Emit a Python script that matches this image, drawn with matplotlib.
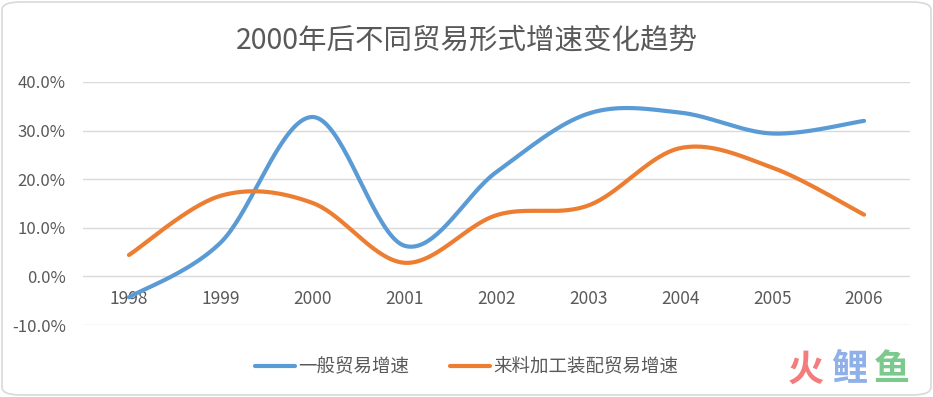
import numpy as np
import matplotlib.pyplot as plt
from matplotlib.patches import FancyBboxPatch

plt.rcParams['font.family'] = ['Noto Sans CJK SC', 'DejaVu Sans']

years = ['1998', '1999', '2000', '2001', '2002', '2003', '2004', '2005', '2006']
general = [-4.3, 7.0, 32.8, 6.3, 21.5, 33.5, 33.7, 29.4, 32.0]
processing = [4.4, 16.6, 15.1, 2.8, 12.6, 14.6, 26.4, 22.4, 12.7]
series_names = ['一般贸易增速', '来料加工装配贸易增速']
colors = ['#5B9BD5', '#ED7D31']


def smooth(y, n=40):
    # Excel-like smoothed line: Catmull-Rom segments as cubic Bezier
    y = np.asarray(y, dtype=float) / 100.0
    x = np.arange(len(y), dtype=float)
    pts = np.column_stack([x, y])
    ext = np.vstack([pts[0], pts, pts[-1]])
    out = []
    t = np.linspace(0, 1, n)[:, None]
    for i in range(len(pts) - 1):
        p0, p1, p2, p3 = ext[i], ext[i + 1], ext[i + 2], ext[i + 3]
        c1 = p1 + (p2 - p0) / 6.0
        c2 = p2 - (p3 - p1) / 6.0
        seg = ((1 - t) ** 3) * p1 + 3 * ((1 - t) ** 2) * t * c1 + 3 * (1 - t) * t ** 2 * c2 + t ** 3 * p2
        out.append(seg if i == 0 else seg[1:])
    seg = np.vstack(out)
    return seg[:, 0], seg[:, 1]


fig = plt.figure(figsize=(9.33, 3.97), dpi=100, facecolor='white')
W, H = 933, 397

border = FancyBboxPatch((2 / W, 2 / H), 1 - 4 / W, 1 - 4 / H,
                        boxstyle='round,pad=0,rounding_size=0.02',
                        transform=fig.transFigure, facecolor='none',
                        edgecolor='#D9D9D9', linewidth=1.2, zorder=0)
fig.patches.append(border)

ax = fig.add_axes([83 / W, (H - 325) / H, (910 - 83) / W, (325 - 82) / H])
ax.patch.set_alpha(0)
for s in ax.spines.values():
    s.set_visible(False)

ax.set_xlim(-0.5, len(years) - 0.5)
ax.set_ylim(-0.1, 0.4)
yt = np.arange(-0.1, 0.41, 0.1)
ax.set_yticks(yt)
ax.set_yticklabels(['%.1f%%' % (v * 100) for v in yt], color='#595959', fontsize=12)
ax.tick_params(axis='y', length=0, pad=12.5)
ax.set_xticks([])
for v in yt:
    ax.axhline(v, color='#D9D9D9', linewidth=1.0, zorder=1)

for i, lab in enumerate(years):
    ax.text(i, -0.047, lab, ha='center', va='center', color='#595959', fontsize=12.5)

for vals, c, name in zip([general, processing], colors, series_names):
    xs, ys = smooth(vals)
    ax.plot(xs, ys, color=c, linewidth=3.0, solid_capstyle='round', label=name, zorder=3)

fig.text(0.5, (H - 41) / H, '2000年后不同贸易形式增速变化趋势', ha='center', va='center',
         fontsize=20.5, color='#595959')

leg = fig.legend(loc='center', bbox_to_anchor=(0.5, (H - 367) / H), ncol=2, frameon=False,
                 fontsize=13.3, handlelength=2.2, handletextpad=0.15, columnspacing=2.2)
for t in leg.get_texts():
    t.set_color('#595959')

# watermark
for ch, c, x in [('火', '#F47C7C', 806), ('鲤', '#8FB0E8', 849), ('鱼', '#7CC98E', 892)]:
    fig.text(x / W, (H - 370) / H, ch, ha='center', va='center', fontsize=26,
             fontweight='bold', color=c)

fig.savefig('out.png', dpi=100, facecolor='white')
